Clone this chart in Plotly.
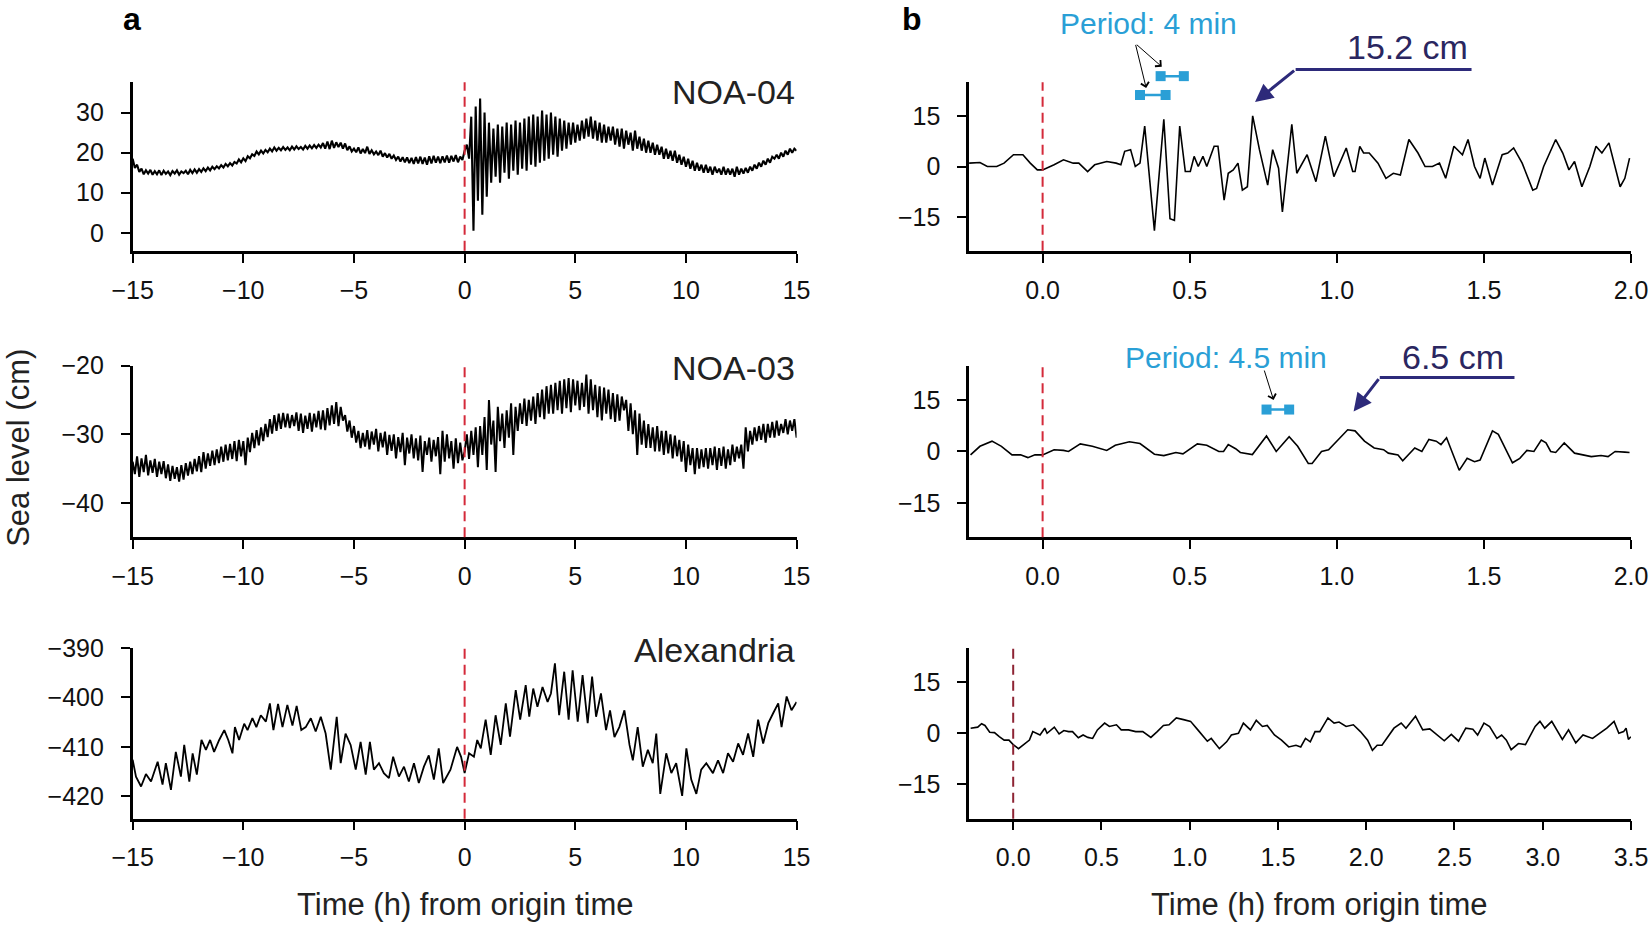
import plotly.graph_objects as go
from plotly.subplots import make_subplots

# ---- data ----
origin_time = 0.0
a_start, a_step = -15.0, 0.1

noa04_level = [
    18.5, 16.2, 17.0, 15.2, 16.0, 14.6, 15.6, 14.8, 15.7, 14.5,
    15.4, 14.6, 15.6, 14.4, 15.5, 14.7, 15.3, 14.4, 15.4, 14.8,
    15.6, 14.5, 15.3, 14.9, 15.5, 14.6, 15.7, 14.9, 15.8, 15.0,
    15.9, 15.2, 16.1, 15.4, 16.3, 15.6, 16.5, 15.9, 16.6, 16.1,
    16.9, 16.3, 17.2, 16.6, 17.4, 16.8, 17.7, 17.3, 18.3, 17.6,
    18.6, 17.9, 19.1, 18.6, 19.6, 19.2, 20.3, 19.6, 20.5, 19.8,
    20.7, 20.1, 21.0, 20.3, 21.3, 20.5, 21.2, 20.6, 21.4, 20.7,
    21.3, 20.6, 21.5, 20.8, 21.6, 20.9, 21.4, 20.8, 21.7, 21.0,
    21.8, 21.1, 21.9, 21.2, 22.0, 21.3, 22.4, 21.0, 22.8, 20.9,
    23.0, 21.2, 22.6, 21.4, 22.5, 21.0, 22.3, 20.6, 21.6, 20.3,
    21.0, 20.1, 21.3, 19.8, 20.9, 19.9, 21.5, 19.7, 20.6, 19.6,
    20.3, 19.4, 20.5, 19.0, 19.9, 18.8, 19.7, 18.5, 19.3, 18.2,
    19.0, 17.8, 18.9, 17.6, 18.8, 17.4, 18.7, 17.2, 18.9, 17.3,
    19.0, 17.2, 18.8, 17.0, 19.1, 17.3, 19.2, 17.5, 19.0, 17.4,
    19.1, 17.6, 19.3, 17.5, 19.2, 17.8, 19.4, 17.6, 19.0, 18.2,
    20.5, 22.0, 18.5, 29.0, 0.5, 31.5, 8.0, 33.5, 4.5, 30.0,
    9.0, 27.5, 12.5, 26.0, 14.0, 27.0, 12.5, 26.5, 15.0, 27.5,
    13.5, 27.0, 15.5, 28.0, 14.5, 27.5, 16.0, 28.5, 15.5, 29.0,
    17.0, 29.5, 16.5, 29.0, 17.5, 30.5, 18.0, 29.5, 18.5, 30.0,
    19.5, 29.0, 19.0, 28.5, 20.5, 28.0, 21.0, 27.5, 22.0, 27.5,
    22.5, 27.0, 23.0, 28.0, 23.5, 28.5, 24.0, 29.0, 23.5, 28.0,
    23.0, 27.5, 22.5, 27.0, 22.5, 26.5, 23.0, 26.5, 22.0, 26.0,
    21.5, 26.0, 21.0, 25.5, 22.0, 25.0, 20.5, 25.5, 21.0, 24.0,
    20.5, 23.5, 20.0, 23.0, 20.0, 22.5, 19.5, 22.0, 19.5, 21.5,
    18.5, 21.0, 18.5, 20.5, 18.0, 20.5, 17.5, 19.5, 17.0, 19.0,
    16.5, 18.5, 16.0, 18.0, 15.5, 17.5, 15.5, 17.0, 15.0, 17.0,
    15.0, 16.5, 14.5, 16.5, 15.0, 16.0, 14.5, 16.5, 14.5, 16.0,
    14.5, 16.0, 14.0, 16.5, 14.5, 16.0, 14.8, 16.2, 15.0, 16.5,
    15.5, 17.0, 16.0, 17.5, 16.5, 18.0, 17.0, 18.5, 17.5, 19.0,
    18.5, 19.5, 18.5, 20.0, 19.0, 20.5, 19.5, 21.0, 20.0, 21.0,
    20.5,
]

noa03_level = [
    -34.0, -35.8, -33.2, -36.2, -33.5, -35.5, -33.0, -36.0, -33.8, -35.6,
    -33.6, -36.2, -34.0, -35.8, -33.9, -36.4, -34.4, -36.8, -34.6, -36.5,
    -34.8, -36.9, -34.5, -36.6, -34.2, -36.0, -34.0, -35.8, -33.6, -35.4,
    -33.2, -35.5, -32.6, -35.0, -32.8, -34.6, -32.4, -34.5, -32.2, -34.2,
    -31.8, -34.0, -31.5, -33.8, -31.4, -33.6, -31.0, -33.9, -30.8, -33.2,
    -31.0, -34.5, -30.5, -32.6, -29.8, -32.0, -29.4, -31.6, -29.0, -31.0,
    -28.5, -30.4, -27.8, -29.9, -27.2, -29.5, -27.0, -29.2, -26.9, -29.0,
    -27.0, -29.1, -27.2, -28.8, -26.8, -29.5, -27.0, -29.8, -27.3, -29.2,
    -26.9, -29.6, -27.0, -29.0, -26.6, -29.3, -26.5, -29.4, -26.2, -28.7,
    -25.8, -28.5, -25.3, -28.8, -26.0, -28.0, -27.2, -29.6, -28.0, -30.5,
    -28.8, -31.2, -29.5, -32.0, -29.8, -31.8, -29.4, -32.2, -29.6, -31.5,
    -29.2, -32.5, -29.8, -31.9, -29.6, -33.0, -30.1, -32.4, -30.0, -33.5,
    -30.4, -32.6, -29.8, -34.5, -30.5, -32.8, -30.0, -33.5, -30.6, -33.8,
    -30.2, -35.5, -31.0, -33.0, -30.5, -34.0, -30.8, -33.2, -30.4, -35.8,
    -29.5, -34.0, -30.0, -33.5, -31.0, -35.0, -30.6, -34.2, -31.2, -33.8,
    -32.5, -30.0, -33.6, -29.5, -33.0, -29.0, -34.8, -28.8, -33.0, -27.5,
    -35.2, -25.0, -31.5, -28.0, -35.5, -26.0, -31.0, -27.0, -32.0, -26.5,
    -30.5, -25.5, -33.0, -26.0, -29.5, -25.5, -28.5, -24.8, -28.8, -25.0,
    -28.0, -24.5, -28.5, -24.0, -27.5, -23.5, -27.8, -23.0, -27.0, -22.8,
    -27.0, -22.5, -26.5, -22.2, -27.0, -22.0, -26.2, -21.8, -26.8, -22.0,
    -25.8, -22.2, -26.5, -22.5, -26.0, -21.3, -27.0, -22.0, -26.5, -22.8,
    -27.5, -23.0, -28.0, -23.2, -27.0, -23.5, -27.8, -24.0, -28.2, -24.2,
    -28.0, -24.5, -26.5, -25.0, -29.5, -25.5, -30.0, -26.5, -33.0, -27.0,
    -31.5, -28.0, -32.0, -28.5, -32.0, -29.0, -32.5, -28.8, -32.5, -29.5,
    -33.0, -29.5, -32.8, -30.0, -33.5, -30.2, -33.2, -30.8, -34.0, -31.0,
    -35.5, -31.5, -34.5, -32.0, -35.8, -32.0, -35.0, -32.2, -34.8, -32.0,
    -35.0, -32.0, -34.5, -31.8, -35.2, -32.0, -34.6, -31.8, -35.0, -32.2,
    -34.5, -31.5, -34.0, -31.8, -33.5, -31.5, -35.0, -29.0, -32.5, -29.5,
    -31.5, -29.0, -31.0, -28.8, -30.8, -28.5, -31.2, -28.5, -30.5, -28.2,
    -30.5, -28.0, -30.2, -28.5, -29.8, -27.8, -30.0, -28.0, -29.5, -27.8,
    -30.5,
]

alex_time = [
    -15.00, -14.85, -14.62, -14.40, -14.17, -13.87, -13.65, -13.50, -13.27, -13.05,
    -12.82, -12.67, -12.44, -12.29, -12.10, -11.89, -11.69, -11.50, -11.32, -11.09,
    -10.86, -10.68, -10.49, -10.38, -10.19, -9.96, -9.81, -9.59, -9.41, -9.21,
    -8.98, -8.80, -8.64, -8.43, -8.23, -8.01, -7.78, -7.59, -7.38, -7.18,
    -6.95, -6.73, -6.50, -6.28, -6.05, -5.78, -5.60, -5.38, -5.15, -4.92,
    -4.70, -4.47, -4.28, -4.10, -3.87, -3.65, -3.42, -3.23, -2.97, -2.74,
    -2.52, -2.29, -2.07, -1.84, -1.62, -1.39, -1.17, -0.97, -0.64, -0.34,
    -0.16, 0.00, 0.20, 0.42, 0.57, 0.73, 0.95, 1.18, 1.40, 1.63,
    1.86, 2.05, 2.31, 2.51, 2.76, 2.92, 3.10, 3.29, 3.52, 3.75,
    3.90, 4.08, 4.27, 4.50, 4.70, 4.88, 5.11, 5.33, 5.56, 5.76,
    5.94, 6.16, 6.39, 6.57, 6.77, 6.99, 7.22, 7.45, 7.60, 7.82,
    8.05, 8.28, 8.50, 8.66, 8.84, 9.11, 9.34, 9.56, 9.83, 10.02,
    10.24, 10.47, 10.69, 10.92, 11.22, 11.45, 11.68, 11.90, 12.13, 12.36,
    12.58, 12.81, 13.04, 13.26, 13.49, 13.72, 13.94, 14.17, 14.32, 14.55,
    14.77, 15.00,
]
alex_level = [
    -412.6, -416.0, -418.0, -415.5, -417.0, -413.0, -417.6, -413.3, -418.7, -411.0,
    -416.0, -409.6, -417.0, -411.3, -415.6, -408.6, -410.6, -408.6, -411.0, -408.6,
    -406.6, -408.6, -411.3, -406.0, -408.6, -405.3, -406.6, -404.2, -406.0, -403.6,
    -404.9, -401.2, -406.6, -401.3, -406.0, -401.5, -405.7, -401.7, -406.6, -406.0,
    -404.2, -406.9, -403.9, -407.3, -414.6, -403.9, -413.3, -407.3, -409.6, -414.6,
    -409.0, -415.6, -409.0, -414.6, -413.3, -415.3, -416.3, -412.0, -416.0, -414.0,
    -417.0, -413.3, -417.3, -414.0, -411.7, -416.6, -410.3, -417.3, -414.6, -410.0,
    -412.0, -415.3, -411.3, -412.0, -408.6, -410.3, -404.5, -411.6, -403.6, -409.6,
    -401.2, -407.9, -398.5, -404.5, -397.5, -403.9, -398.2, -401.9, -397.9, -400.9,
    -399.2, -393.1, -403.6, -394.8, -404.5, -394.5, -404.9, -395.5, -405.2, -395.8,
    -403.9, -399.2, -406.6, -402.6, -408.0, -406.0, -402.6, -409.6, -412.7, -406.0,
    -414.0, -410.6, -413.3, -407.3, -419.5, -411.3, -415.3, -413.3, -419.9, -410.3,
    -416.6, -419.5, -414.6, -413.3, -415.3, -412.7, -415.3, -411.3, -413.0, -409.3,
    -411.6, -407.3, -412.0, -404.5, -409.3, -405.2, -403.2, -401.2, -406.0, -399.8,
    -402.6, -400.9,
]

b_noa04_time = [
    -0.250, -0.213, -0.188, -0.156, -0.131, -0.099, -0.067, -0.042, -0.018, 0.000,
    0.039, 0.071, 0.104, 0.123, 0.153, 0.177, 0.218, 0.250, 0.266, 0.279,
    0.299, 0.315, 0.331, 0.347, 0.380, 0.412, 0.433, 0.448, 0.466, 0.485,
    0.502, 0.515, 0.529, 0.545, 0.558, 0.583, 0.596, 0.617, 0.631, 0.648,
    0.664, 0.679, 0.696, 0.714, 0.737, 0.765, 0.782, 0.802, 0.815, 0.847,
    0.864, 0.899, 0.929, 0.961, 0.990, 1.032, 1.054, 1.062, 1.078, 1.091,
    1.110, 1.140, 1.167, 1.192, 1.216, 1.245, 1.276, 1.300, 1.325, 1.349,
    1.370, 1.398, 1.427, 1.446, 1.468, 1.487, 1.503, 1.529, 1.562, 1.581,
    1.601, 1.630, 1.666, 1.679, 1.703, 1.744, 1.768, 1.789, 1.808, 1.833,
    1.860, 1.881, 1.901, 1.925, 1.963, 1.979, 1.995,
]
b_noa04_level = [
    1.0, 1.2, 0.0, 0.0, 1.0, 3.5, 3.5, 1.0, -1.0, -1.0,
    0.5, 2.0, 1.0, 1.0, -1.5, 0.5, 1.5, 1.0, 0.5, 4.5,
    5.0, 0.0, 1.0, 12.0, -19.0, 14.0, -15.5, -16.0, 12.0, -1.5,
    -1.5, 3.0, 0.0, 3.0, 0.0, 6.0, 6.0, -10.0, -2.0, -1.0,
    1.0, -7.0, -6.0, 15.0, 5.0, -5.5, 5.0, -0.5, -13.5, 12.5,
    -2.0, 3.5, -4.5, 9.0, -3.0, 5.5, -1.5, -1.5, 6.0, 4.0,
    4.0, 1.0, -3.5, -2.0, -2.5, 8.0, 4.0, 0.0, 0.0, 1.0,
    -3.5, 6.0, 3.5, 8.0, 0.0, -3.5, 2.5, -5.5, 3.5, 4.0,
    5.5, 1.0, -7.0, -6.5, 0.0, 8.0, 4.0, -1.0, 1.5, -6.0,
    0.0, 6.0, 4.0, 7.0, -6.0, -3.5, 2.5,
]

b_noa03_time = [
    -0.245, -0.213, -0.172, -0.140, -0.104, -0.075, -0.050, -0.026, 0.000, 0.039,
    0.071, 0.088, 0.128, 0.169, 0.218, 0.247, 0.295, 0.331, 0.380, 0.412,
    0.453, 0.477, 0.526, 0.558, 0.599, 0.615, 0.631, 0.656, 0.672, 0.713,
    0.761, 0.794, 0.838, 0.867, 0.903, 0.916, 0.948, 0.972, 1.037, 1.062,
    1.094, 1.127, 1.159, 1.175, 1.208, 1.224, 1.265, 1.289, 1.313, 1.338,
    1.354, 1.373, 1.416, 1.443, 1.468, 1.487, 1.529, 1.549, 1.597, 1.622,
    1.646, 1.670, 1.695, 1.711, 1.727, 1.744, 1.773, 1.808, 1.865, 1.898,
    1.922, 1.946, 1.979, 1.995,
]
b_noa03_level = [
    -1.0, 1.5, 3.0, 1.5, -1.0, -1.0, -1.8, -1.0, -1.0, 0.5,
    0.3, 0.0, 2.2, 1.5, 0.3, 1.8, 2.8, 2.3, -0.8, -1.2,
    -0.3, -0.7, 2.2, 1.8, 0.0, 0.0, 2.0, 0.8, -0.3, -0.9,
    4.5, 0.0, 4.3, 1.5, -3.5, -3.5, 0.0, 0.5, 6.3, 6.0,
    3.0, 1.0, 0.5, -0.5, -1.0, -2.7, 1.0, 0.0, 3.5, 3.0,
    2.0, 4.0, -5.5, -2.0, -3.0, -2.5, 6.0, 5.0, -3.3, -2.0,
    0.3, 0.0, 3.3, 2.5, 0.0, -0.3, 2.5, -0.5, -1.5, -1.2,
    -1.5, 0.0, -0.2, -0.3,
]

b_alex_time = [
    -0.241, -0.201, -0.179, -0.160, -0.133, -0.106, -0.079, -0.051, -0.024, 0.000,
    0.030, 0.065, 0.092, 0.111, 0.152, 0.179, 0.192, 0.233, 0.260, 0.287,
    0.314, 0.336, 0.369, 0.396, 0.423, 0.450, 0.477, 0.518, 0.545, 0.585,
    0.612, 0.653, 0.694, 0.734, 0.780, 0.816, 0.851, 0.883, 0.924, 0.965,
    1.005, 1.046, 1.100, 1.122, 1.168, 1.209, 1.236, 1.276, 1.304, 1.344,
    1.377, 1.412, 1.439, 1.480, 1.520, 1.561, 1.602, 1.629, 1.656, 1.683,
    1.710, 1.737, 1.783, 1.818, 1.846, 1.886, 1.927, 1.967, 2.008, 2.035,
    2.062, 2.089, 2.117, 2.157, 2.198, 2.225, 2.279, 2.320, 2.360, 2.401,
    2.442, 2.482, 2.523, 2.564, 2.604, 2.631, 2.667, 2.699, 2.740, 2.767,
    2.794, 2.821, 2.862, 2.902, 2.957, 2.984, 3.011, 3.051, 3.111, 3.146,
    3.187, 3.228, 3.282, 3.363, 3.404, 3.431, 3.458, 3.472, 3.485, 3.499,
]
b_alex_level = [
    1.5, 1.8, 2.8, 2.3, 0.3, 0.2, -1.0, -2.0, -2.0, -3.3,
    -4.5, -3.0, -2.0, 0.5, -0.5, 1.5, 0.0, 1.8, -0.2, 0.8,
    0.5, 0.5, -1.3, -0.5, -1.2, -1.5, 1.0, 3.0, 2.0, 2.5,
    1.0, 1.0, 0.5, 0.5, -1.2, 0.5, 2.3, 2.5, 4.5, 4.0,
    3.5, 1.0, -2.3, -1.5, -4.5, -2.5, -0.5, 0.0, 3.0, 1.0,
    3.8, 2.0, 2.3, -0.5, -2.0, -4.0, -3.5, -4.0, -1.5, -2.5,
    0.5, 0.5, 4.5, 3.0, 3.3, 2.0, 2.5, 0.5, -2.0, -5.0,
    -3.5, -3.5, -1.5, 1.5, 3.0, 1.5, 5.0, 1.0, 1.3, -0.5,
    -2.2, -0.3, -2.3, 1.5, 1.2, -0.5, 3.0, 2.0, -1.5, -0.5,
    -2.0, -4.8, -3.0, -3.3, 2.0, 3.5, 1.5, 3.5, -1.8, 1.0,
    -2.8, -0.5, -1.5, 1.5, 3.5, 0.0, 0.5, 1.5, -1.8, -1.0,
]

stations = ["NOA-04", "NOA-03", "Alexandria"]

# ---- figure ----
fig = make_subplots(rows=3, cols=2)

noa04_time = [a_start + a_step * i for i in range(len(noa04_level))]
noa03_time = [a_start + a_step * i for i in range(len(noa03_level))]

series = [
    (1, 1, noa04_time, noa04_level, 2.1),
    (2, 1, noa03_time, noa03_level, 2.0),
    (3, 1, alex_time, alex_level, 1.8),
    (1, 2, b_noa04_time, b_noa04_level, 1.6),
    (2, 2, b_noa03_time, b_noa03_level, 1.6),
    (3, 2, b_alex_time, b_alex_level, 1.6),
]
for r, c, t, v, w in series:
    fig.add_trace(go.Scatter(x=t, y=v, mode="lines", showlegend=False,
                             line=dict(color="black", width=w)),
                  row=r, col=c)

for r in (1, 2, 3):
    for c in (1, 2):
        col = "#8e2434" if (r, c) == (3, 2) else "#d42a3a"
        fig.add_vline(x=origin_time, row=r, col=c,
                      line=dict(color=col, width=2, dash="10px,6px"))

tick_font = dict(family="Liberation Sans, Arial, sans-serif", size=25, color="#111")
ax_common = dict(showline=True, linecolor="black", linewidth=2.5, ticks="outside",
                 ticklen=9, tickwidth=2, tickcolor="black", showgrid=False,
                 zeroline=False, tickfont=tick_font, automargin=False)

left_x = [0.0803, 0.4822]
right_x = [0.5866, 0.9873]
rows_y = [[0.7306, 0.9117], [0.4229, 0.6073], [0.1207, 0.3040]]

y_left = [
    dict(range=[-4.5, 37.6], tickvals=[0, 10, 20, 30]),
    dict(range=[-45, -20], tickvals=[-40, -30, -20]),
    dict(range=[-424.5, -390], tickvals=[-420, -410, -400, -390]),
]
for i in range(3):
    n_left = 2 * i + 1
    n_right = 2 * i + 2
    sl = "" if n_left == 1 else str(n_left)
    sr = str(n_right)
    fig.layout["xaxis" + sl].update(domain=left_x, range=[-15, 15],
                                    tickvals=[-15, -10, -5, 0, 5, 10, 15],
                                    ticklabelstandoff=6, **ax_common)
    fig.layout["yaxis" + sl].update(domain=rows_y[i], ticklabelstandoff=12,
                                    **y_left[i], **ax_common)
    if i < 2:
        xr = dict(range=[-0.25, 2.0], tickvals=[0, 0.5, 1, 1.5, 2],
                  ticktext=["0.0", "0.5", "1.0", "1.5", "2.0"])
    else:
        xr = dict(range=[-0.25, 3.5], tickvals=[0, 0.5, 1, 1.5, 2, 2.5, 3, 3.5],
                  ticktext=["0.0", "0.5", "1.0", "1.5", "2.0", "2.5", "3.0", "3.5"])
    fig.layout["xaxis" + sr].update(domain=right_x, ticklabelstandoff=6, **xr, **ax_common)
    fig.layout["yaxis" + sr].update(domain=rows_y[i], range=[-25, 25],
                                    tickvals=[-15, 0, 15], ticklabelstandoff=12,
                                    **ax_common)

annos = []
label_font = dict(family="Liberation Sans, Arial, sans-serif", size=34, color="#222")
for i, name in enumerate(stations):
    n = 2 * i + 1
    s = "" if n == 1 else str(n)
    annos.append(dict(text=name, xref="x" + s + " domain", yref="y" + s + " domain",
                      x=1.0, y=[0.94, 0.985, 0.99][i], xanchor="right", yanchor="middle",
                      showarrow=False, font=label_font))

title_font = dict(family="Liberation Sans, Arial, sans-serif", size=31, color="#222")
for xc in (0.2812, 0.7985):
    annos.append(dict(text="Time (h) from origin time", xref="paper", yref="paper",
                      x=xc, y=0.029, xanchor="center", yanchor="middle",
                      showarrow=False, font=title_font))
annos.append(dict(text="Sea level (cm)", xref="paper", yref="paper", x=0.0115, y=0.519,
                  textangle=-90, xanchor="center", yanchor="middle", showarrow=False,
                  font=title_font))
for txt, xp in (("a", 0.0797), ("b", 0.552)):
    annos.append(dict(text="<b>" + txt + "</b>", xref="paper", yref="paper", x=xp,
                      y=0.98, xanchor="center", yanchor="middle", showarrow=False,
                      font=dict(family="Liberation Sans, Arial, sans-serif", size=32,
                                color="black")))

cyan = "#2a9fd6"
navy = "#2d2a7a"
per_font = dict(family="Liberation Sans, Arial, sans-serif", size=30, color=cyan)
cm_font = dict(family="Liberation Sans, Arial, sans-serif", size=34, color="#2a2660")


def seg(xa, ya, xb, yb, n, color, head, width, size=1.0, side="end"):
    # arrow from (xa, ya) to (xb, yb); x in data units, y as fraction of panel height
    xr, yr = "x" + n, "y" + n + " domain"
    return dict(x=xb, y=yb, ax=xa, ay=ya, xref=xr, yref=yr, axref=xr, ayref=yr,
                text="", showarrow=True, arrowhead=head, arrowside=side,
                arrowwidth=width, arrowsize=size, arrowcolor=color)


def note(txt, x, y, n, font):
    return dict(text=txt, x=x, y=y, xref="x" + n, yref="y" + n + " domain",
                xanchor="center", yanchor="middle", showarrow=False, font=font)


# top right panel
annos.append(note("Period: 4 min", 0.36, 1.35, "2", per_font))
annos.append(seg(0.326, 0.924, 0.418, 0.924, "2", cyan, 7, 2.5, 1.0, "end+start"))
annos.append(seg(0.396, 1.036, 0.480, 1.036, "2", cyan, 7, 2.5, 1.0, "end+start"))
annos.append(seg(0.315, 1.23, 0.352, 0.966, "2", "black", 4, 1, 1.6))
annos.append(seg(0.315, 1.23, 0.405, 1.092, "2", "black", 4, 1, 1.6))
annos.append(note("15.2 cm", 1.24, 1.208, "2", cm_font))
annos.append(seg(1.463, 1.076, 0.86, 1.076, "2", navy, 0, 3))
annos.append(seg(0.86, 1.076, 0.722, 0.882, "2", navy, 2, 3, 1.2))

# middle right panel
annos.append(note("Period: 4.5 min", 0.623, 1.05, "4", per_font))
annos.append(seg(0.756, 0.744, 0.838, 0.744, "4", cyan, 7, 2.5, 1.0, "end+start"))
annos.append(seg(0.752, 0.98, 0.785, 0.80, "4", "black", 4, 1, 1.6))
annos.append(note("6.5 cm", 1.395, 1.05, "4", cm_font))
annos.append(seg(1.609, 0.93, 1.146, 0.93, "4", navy, 0, 3))
annos.append(seg(1.146, 0.93, 1.057, 0.732, "4", navy, 2, 3, 1.2))

fig.update_layout(width=1652, height=931,
                  margin=dict(l=0, r=0, t=0, b=0, pad=0, autoexpand=False),
                  paper_bgcolor="white", plot_bgcolor="white",
                  annotations=annos, showlegend=False)

fig.write_html("out.html", config={"displayModeBar": False},
               post_script="document.body.style.margin='0px';")
